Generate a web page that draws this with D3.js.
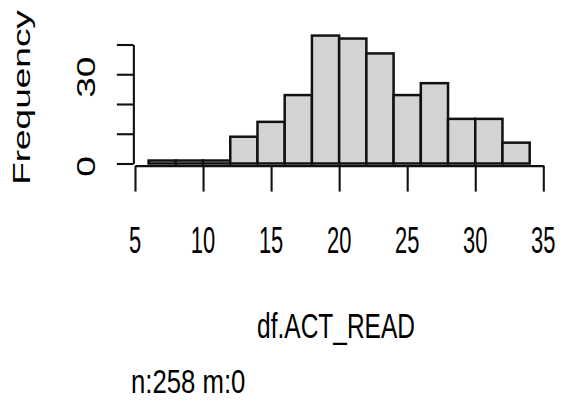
<!DOCTYPE html>
<html>
<head>
<meta charset="utf-8">
<script src="https://cdn.jsdelivr.net/npm/d3@7"></script>
<style>
  html, body { margin: 0; padding: 0; background: #fff; }
  svg { display: block; }
  text { font-family: "Liberation Sans", Arial, sans-serif; fill: #000; }
</style>
</head>
<body>
<div id="chart"></div>
<script>
// Histogram of df.ACT_READ, bins of width 2
const binBreaks = [6, 8, 10, 12, 14, 16, 18, 20, 22, 24, 26, 28, 30, 32, 34];
const binCounts = [1, 1, 1, 9, 14, 23, 43, 42, 37, 23, 27, 15, 15, 7];
const xTickValues = [5, 10, 15, 20, 25, 30, 35];
const yTickValues = [0, 10, 20, 30, 40];
const yTickLabelValues = [0, 30];
const xAxisTitle = "df.ACT_READ";
const yAxisTitle = "Frequency";
const footnote = "n:258 m:0";

const W = 561, H = 403;
const svg = d3.select("#chart").append("svg")
  .attr("width", W).attr("height", H);

const x = d3.scaleLinear().domain([5, 35]).range([135, 543.3]);
const y = d3.scaleLinear().domain([0, 40]).range([163.5, 44.5]);

const xAxisY = 165.6;
const yAxisX = x(4.88);
const ink = "#111";
const barLw = 2.5;
const axisLw = 2.1;

// text with a horizontal squeeze factor (applied in screen space)
function label(s, px, py, size, sx, anchor, rotated) {
  return svg.append("text")
    .attr("transform", `translate(${px},${py}) scale(${sx},1)` + (rotated ? " rotate(-90)" : ""))
    .attr("font-size", size)
    .attr("text-anchor", anchor)
    .text(s);
}

// bars
const bins = binCounts.map((c, i) => ({ x0: binBreaks[i], x1: binBreaks[i + 1], n: c }));
svg.append("g").selectAll("rect").data(bins).join("rect")
  .attr("x", d => x(d.x0))
  .attr("y", d => y(d.n))
  .attr("width", d => x(d.x1) - x(d.x0))
  .attr("height", d => y(0) - y(d.n))
  .attr("fill", "#d3d3d3")
  .attr("stroke", ink)
  .attr("stroke-width", barLw);

// x axis
const xAxis = d3.axisBottom(x).tickValues(xTickValues).tickFormat("")
  .tickSizeInner(26).tickSizeOuter(0);
const gx = svg.append("g").attr("transform", `translate(0,${xAxisY})`).call(xAxis);

// y axis
const yAxis = d3.axisLeft(y).tickValues(yTickValues).tickFormat("")
  .tickSizeInner(16.5).tickSizeOuter(0);
const gy = svg.append("g").attr("transform", `translate(${yAxisX},0)`).call(yAxis);

[gx, gy].forEach(g => {
  g.selectAll("path.domain").attr("stroke", ink).attr("stroke-width", axisLw);
  g.selectAll(".tick line").attr("stroke", ink).attr("stroke-width", axisLw);
});

// tick labels
xTickValues.forEach(v => label(String(v), x(v), 253, 36.5, 0.6, "middle", false));
yTickLabelValues.forEach(v => label(String(v), 95, y(v) + 3, 37, 0.68, "middle", true));

// titles
label(xAxisTitle, 336, 338, 35, 0.7, "middle", false);
label(yAxisTitle, 30, 97.5, 37, 0.64, "middle", true);
label(footnote, 131, 393, 33, 0.78, "start", false);
</script>
</body>
</html>
